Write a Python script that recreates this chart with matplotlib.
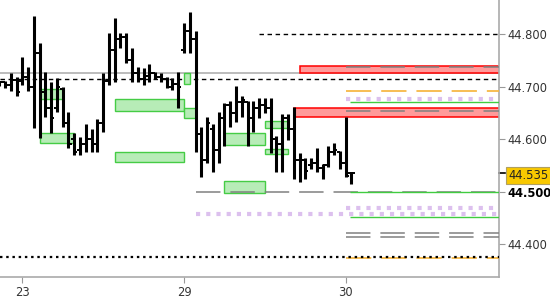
import matplotlib
matplotlib.use("Agg")
import matplotlib.pyplot as plt
from matplotlib.patches import Rectangle
import matplotlib.transforms as mtransforms

# OHLC bars (one per bar index)
highs = [44.711, 44.711, 44.726, 44.718, 44.756, 44.737, 44.834, 44.783, 44.728, 44.709,
         44.716, 44.699, 44.652, 44.612, 44.604, 44.629, 44.619, 44.638, 44.726, 44.802,
         44.830, 44.802, 44.802, 44.773, 44.737, 44.735, 44.743, 44.728, 44.726, 44.718,
         44.716, 44.728, 44.821, 44.842, 44.806, 44.623, 44.642, 44.629, 44.652, 44.669,
         44.672, 44.701, 44.682, 44.672, 44.672, 44.678, 44.678, 44.678, 44.606, 44.648,
         44.648, 44.661, 44.574, 44.564, 44.564, 44.583, 44.553, 44.587, 44.593, 44.577,
         44.642, 44.537]
lows = [44.701, 44.697, 44.692, 44.682, 44.703, 44.692, 44.621, 44.602, 44.642, 44.612,
        44.652, 44.623, 44.583, 44.570, 44.570, 44.575, 44.575, 44.575, 44.614, 44.703,
        44.709, 44.773, 44.745, 44.709, 44.709, 44.703, 44.709, 44.714, 44.709, 44.697,
        44.693, 44.659, 44.764, 44.764, 44.575, 44.528, 44.555, 44.537, 44.555, 44.587,
        44.623, 44.633, 44.642, 44.587, 44.614, 44.640, 44.650, 44.574, 44.537, 44.537,
        44.598, 44.524, 44.518, 44.524, 44.543, 44.537, 44.524, 44.547, 44.570, 44.543,
        44.528, 44.515]
opens = [44.705, 44.708, 44.703, 44.712, 44.710, 44.718, 44.700, 44.764, 44.690, 44.660,
         44.660, 44.695, 44.630, 44.600, 44.580, 44.590, 44.600, 44.590, 44.630, 44.710,
         44.770, 44.790, 44.795, 44.750, 44.725, 44.715, 44.720, 44.725, 44.718, 44.715,
         44.700, 44.705, 44.770, 44.805, 44.790, 44.610, 44.560, 44.620, 44.580, 44.640,
         44.665, 44.650, 44.670, 44.670, 44.640, 44.660, 44.665, 44.660, 44.600, 44.590,
         44.640, 44.620, 44.560, 44.560, 44.550, 44.555, 44.545, 44.550, 44.575, 44.575,
         44.555, 44.535]
closes = [44.708, 44.703, 44.712, 44.690, 44.718, 44.700, 44.764, 44.690, 44.660, 44.640,
          44.700, 44.630, 44.590, 44.575, 44.590, 44.600, 44.590, 44.630, 44.710, 44.770,
          44.790, 44.795, 44.750, 44.725, 44.715, 44.720, 44.725, 44.718, 44.715, 44.700,
          44.705, 44.700, 44.805, 44.790, 44.610, 44.560, 44.630, 44.580, 44.640, 44.665,
          44.650, 44.670, 44.675, 44.640, 44.660, 44.665, 44.660, 44.600, 44.590, 44.640,
          44.620, 44.560, 44.560, 44.540, 44.555, 44.545, 44.550, 44.575, 44.580, 44.555,
          44.530, 44.535]

tick_pos = [4, 32, 60]
tick_labels = ["23", "29", "30"]
yticks = [44.400, 44.500, 44.600, 44.700, 44.800]
last_price = 44.535

# green zones: start bar, end bar, low, high
green_start = [7, 7, 20, 20, 32, 32, 39, 46, 46, 39]
green_end = [11, 13, 32, 32, 33, 34, 46, 50, 50, 46]
green_low = [44.676, 44.593, 44.654, 44.556, 44.705, 44.640, 44.589, 44.621, 44.572, 44.498]
green_high = [44.695, 44.611, 44.676, 44.575, 44.726, 44.659, 44.612, 44.635, 44.581, 44.520]

# red zones
red_start = [52, 51]
red_low = [44.725, 44.643]
red_high = [44.740, 44.659]

# horizontal levels
gray_solid = 44.7257
black_dash_full = 44.7138
black_dash_top = 44.800
black_dash_top_start = 45
gray_dash_levels = [44.7372, 44.6535, 44.500, 44.4208, 44.4132]
gray_dash_starts = [60, 60, 34, 60, 60]
orange_levels = [44.6915, 44.3733]
lavender_levels = [44.6763, 44.4696, 44.4576]
lavender_starts = [60, 60, 34]
green_levels = [44.670, 44.499, 44.4513]
black_dot_level = 44.3764

fig = plt.figure(figsize=(5.5, 3.0), dpi=100)
ax = fig.add_axes([0.0, 1 - 276.7 / 300, 499 / 550, 276.7 / 300])
x0, x1 = 0.14, 86.54
ax.set_xlim(x0, x1)
ax.set_ylim(44.3383, 44.8646)

# zones
for s, e, lo, hi in zip(green_start, green_end, green_low, green_high):
    ax.add_patch(Rectangle((s, lo), e - s, hi - lo, facecolor="#b7ecb7",
                           edgecolor="#45cc45", lw=1.0, zorder=3))
for s, lo, hi in zip(red_start, red_low, red_high):
    ax.add_patch(Rectangle((s, lo), x1 + 1 - s, hi - lo, facecolor="#ff9a9a",
                           edgecolor="#ff0000", lw=1.1, zorder=2))

# levels
ax.axhline(gray_solid, color="#b0b0b0", lw=1.2, zorder=1)
ax.axhline(black_dash_full, color="black", lw=1.0, ls=(0, (3.2, 2.6)), zorder=1)
ax.hlines(black_dash_top, black_dash_top_start, x1, color="black", lw=1.0,
          ls=(0, (3.2, 2.6)), zorder=1)
for lv, s in zip(gray_dash_levels, gray_dash_starts):
    ax.hlines(lv, s, x1, color="#808080", lw=1.1, ls=(0, (16, 6.5)), zorder=4)
for lv in orange_levels:
    ax.hlines(lv, 60, x1, color="#f7b947", lw=1.3, ls=(0, (14, 5.5)), zorder=4)
for lv, s in zip(lavender_levels, lavender_starts):
    ax.hlines(lv, s, x1, color="#dcc0ee", lw=3.0, ls=(0, (1.0, 1.45)), zorder=4)
for lv in green_levels:
    ax.hlines(lv, 60.8, x1, color="#40cc40", lw=1.0, zorder=4)
ax.axhline(black_dot_level, color="black", lw=1.6, ls=(0, (1.1, 1.7)), zorder=5)

# OHLC bars
idx = range(len(highs))
ax.vlines(idx, lows, highs, color="black", lw=2.2, zorder=6)
ax.hlines(opens, [i - 0.55 for i in idx], idx, color="black", lw=1.4, zorder=6)
ax.hlines(closes, idx, [i + 0.55 for i in idx], color="black", lw=1.4, zorder=6)

# axes styling
for side in ["top", "left"]:
    ax.spines[side].set_visible(False)
for side in ["right", "bottom"]:
    ax.spines[side].set_color("#aaaaaa")
    ax.spines[side].set_linewidth(1.2)
ax.yaxis.tick_right()
ax.set_yticks(yticks)
ax.set_yticklabels(["%.3f" % v for v in yticks])
ax.set_xticks(tick_pos)
ax.set_xticklabels(tick_labels)
ax.tick_params(axis="y", length=4, color="#999999", labelsize=8.3, pad=2,
               labelcolor="#333333")
ax.tick_params(axis="x", length=4, color="#999999", labelsize=8.3, pad=3,
               labelcolor="#333333")
for lab in ax.get_yticklabels():
    if lab.get_text() == "44.500":
        lab.set_fontweight("bold")
        lab.set_color("black")

# last price marker
trans = mtransforms.blended_transform_factory(ax.transAxes, ax.transData)
ax.plot([1.0, 1.012], [last_price, last_price], color="black", lw=1.2,
        transform=trans, clip_on=False)
ax.text(1.018, last_price - 0.004, "%.3f" % last_price, transform=trans,
        fontsize=8.3, va="center", ha="left", color="#222222",
        bbox=dict(boxstyle="square,pad=0.2", facecolor="#f8c800",
                  edgecolor="#b0a060", lw=0.8))

fig.savefig("out.png", dpi=100)
